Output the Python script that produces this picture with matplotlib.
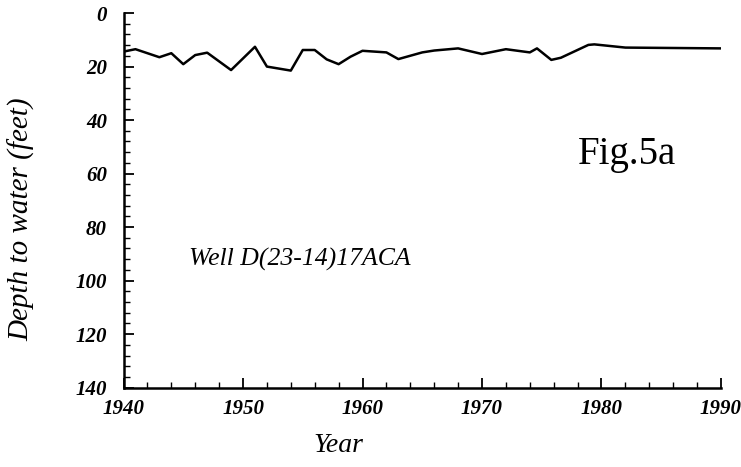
import matplotlib
matplotlib.use("Agg")
import matplotlib.pyplot as plt
from matplotlib.ticker import MultipleLocator

# depth to water readings, well D(23-14)17ACA
years = [1940, 1941, 1943, 1944, 1945, 1946, 1947, 1949, 1951, 1952,
         1954, 1955, 1956, 1957, 1958, 1959, 1960, 1962, 1963, 1965,
         1966, 1968, 1970, 1972, 1974, 1974.6, 1975.8, 1976.6, 1978.9,
         1979.4, 1982, 1990]
depth = [14.4, 13.5, 16.5, 15.0, 19.1, 15.7, 14.8, 21.3, 12.6, 20.0,
         21.5, 13.8, 13.8, 17.3, 19.1, 16.3, 14.1, 14.7, 17.2, 14.7,
         14.0, 13.2, 15.3, 13.5, 14.7, 13.2, 17.5, 16.7, 11.9,
         11.7, 12.9, 13.2]

serif = "Liberation Serif"

fig = plt.figure(figsize=(7.41, 4.67), dpi=100)
ax = fig.add_axes([0.1667, 0.170, 0.8063, 0.802])

ax.plot(years, depth, color="black", lw=1.8)

ax.set_xlim(1940, 1990)
ax.set_ylim(140, 0)
ax.xaxis.set_major_locator(MultipleLocator(10))
ax.xaxis.set_minor_locator(MultipleLocator(2))
ax.yaxis.set_major_locator(MultipleLocator(20))
ax.yaxis.set_minor_locator(MultipleLocator(4))

for s in ["top", "right"]:
    ax.spines[s].set_visible(False)
for s in ["left", "bottom"]:
    ax.spines[s].set_linewidth(1.8)

ax.tick_params(which="both", direction="in", color="black")
ax.tick_params(which="major", length=7, width=1.3)
ax.tick_params(which="minor", length=4, width=1.0)
ax.tick_params(axis="y", pad=12)
ax.tick_params(axis="x", pad=8)

for lab in ax.get_xticklabels() + ax.get_yticklabels():
    lab.set_family(serif)
    lab.set_style("italic")
    lab.set_weight("bold")
    lab.set_size(15)

ax.set_xlabel("Year", family=serif, style="italic", size=20)
ax.xaxis.set_label_coords(0.36, -0.12)
ax.set_ylabel("Depth to water (feet)", family=serif, style="italic", size=21)
ax.yaxis.set_label_coords(-0.148, 0.45)

ax.text(1945.5, 92, "Well D(23-14)17ACA", family=serif, style="italic", size=18.5,
        va="center", ha="left")
ax.text(1978.0, 53, "Fig.5a", family=serif, size=28, va="center", ha="left")

fig.savefig("out.png", dpi=100)
